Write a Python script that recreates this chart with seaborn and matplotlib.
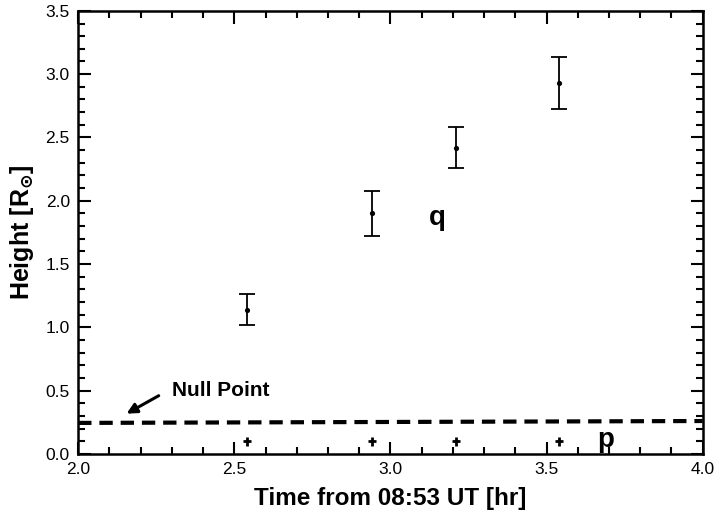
import matplotlib
matplotlib.use("Agg")
import matplotlib.pyplot as plt
from matplotlib.ticker import MultipleLocator, FormatStrFormatter
import seaborn as sns
import pandas as pd

# data
time_q = [2.54, 2.94, 3.21, 3.54]
height_q = [1.14, 1.90, 2.42, 2.93]
err_q = [0.125, 0.18, 0.165, 0.205]
time_p = [2.54, 2.94, 3.21, 3.54]
height_p = [0.10, 0.10, 0.10, 0.10]
err_p = [0.035, 0.035, 0.035, 0.035]
xerr_p = [0.013, 0.013, 0.013, 0.013]
null_x = [2.0, 4.0]
null_y = [0.245, 0.26]

sns.set_style("ticks")
plt.rcParams['font.family'] = ['Liberation Sans', 'DejaVu Sans']
plt.rcParams['text.color'] = 'black'
plt.rcParams['axes.labelcolor'] = 'black'
plt.rcParams['xtick.color'] = 'black'
plt.rcParams['ytick.color'] = 'black'

fig = plt.figure(figsize=(7.17, 5.17), dpi=100)
ax = fig.add_axes([0.109, 0.122, 0.871, 0.857])

dq = pd.DataFrame({"t": time_q, "h": height_q})

ax.errorbar(time_q, height_q, yerr=err_q, fmt='none', ecolor='black',
            elinewidth=1.3, capsize=6, capthick=1.3)
ax.errorbar(time_p, height_p, yerr=err_p, xerr=xerr_p, fmt='none',
            ecolor='black', elinewidth=2.0, capsize=0)
sns.scatterplot(data=dq, x="t", y="h", ax=ax, color='black', s=14,
                edgecolor='black', linewidth=0, zorder=3)
sns.lineplot(x=null_x, y=null_y, ax=ax, color='black', lw=3.0,
             linestyle=(0, (3.2, 1.9)))

ax.text(2.30, 0.50, "Null Point", fontsize=15, fontweight='bold',
        va='center', ha='left', color='black')
ax.annotate("", xy=(2.155, 0.318), xytext=(2.258, 0.46),
            arrowprops=dict(arrowstyle='-|>', color='black', lw=2.2,
                            mutation_scale=15, shrinkA=0, shrinkB=0))
ax.text(3.15, 1.86, "q", fontsize=20, fontweight='bold', ha='center', va='center', color='black')
ax.text(3.69, 0.11, "p", fontsize=20, fontweight='bold', ha='center', va='center', color='black')

ax.set_xlim(2.0, 4.0)
ax.set_ylim(0.0, 3.5)
ax.xaxis.set_major_locator(MultipleLocator(0.5))
ax.xaxis.set_minor_locator(MultipleLocator(0.1))
ax.yaxis.set_major_locator(MultipleLocator(0.5))
ax.yaxis.set_minor_locator(MultipleLocator(0.1))
ax.xaxis.set_major_formatter(FormatStrFormatter('%.1f'))
ax.yaxis.set_major_formatter(FormatStrFormatter('%.1f'))
ax.tick_params(which='major', direction='in', length=9, width=1.5,
               top=True, right=True, labelsize=12.5, pad=6,
               color='black', labelcolor='black')
ax.tick_params(which='minor', direction='in', length=5, width=1.5,
               top=True, right=True, color='black')
for s in ax.spines.values():
    s.set_linewidth(1.8)
    s.set_color('black')
    s.set_visible(True)

ax.set_xlabel("Time from 08:53 UT [hr]", fontsize=17.5, fontweight='bold',
              labelpad=7, color='black')
ax.set_ylabel(r"Height [R$_\mathbf{\odot}$]", fontsize=18, fontweight='bold',
              labelpad=7, color='black')

fig.savefig("out.png", dpi=100)
